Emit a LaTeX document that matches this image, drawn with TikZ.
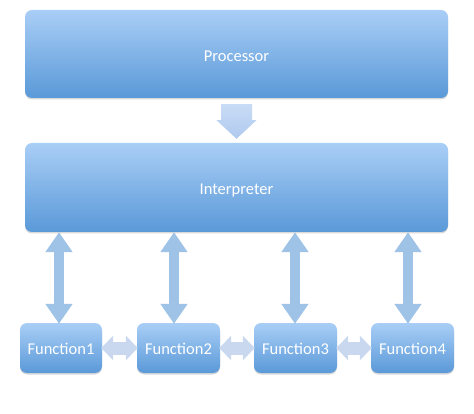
\documentclass[tikz,border=0pt]{standalone}
\usepackage{fontspec}
\setmainfont{Carlito}
\usetikzlibrary{arrows.meta,shadows,calc}
\definecolor{boxtop}{HTML}{A9CEF6}
\definecolor{boxbot}{HTML}{5A99D8}
\definecolor{varcol}{HTML}{9FC2E7}
\definecolor{harcol}{HTML}{C9D8EF}
\definecolor{dntop}{HTML}{C9DCF6}
\definecolor{dnbot}{HTML}{AFC9EE}
\newcommand{\lowtext}[2]{\raisebox{-#1}[0pt][0pt]{#2}}
\begin{document}
\begin{tikzpicture}[x=1pt,y=-1pt,
  bluebox/.style={rounded corners=7pt, top color=boxtop, bottom color=boxbot,
    draw=none, text=white, font=\fontsize{16.5}{19}\selectfont, inner sep=0pt,
    drop shadow={opacity=0.3, shadow xshift=0pt, shadow yshift=-1.5pt}},
  varrow/.style={draw=varcol, line width=10pt,
    {Triangle[width=26pt,length=20pt]}-{Triangle[width=26pt,length=20pt]}},
  harrow/.style={draw=harcol, line width=13pt,
    {Triangle[width=24pt,length=12pt]}-{Triangle[width=24pt,length=12pt]}}
]
\useasboundingbox (0,0) rectangle (474,414);
\node[bluebox, minimum width=423pt, minimum height=88pt] (proc) at (236.5,54) {\lowtext{7.3pt}{Processor}};
\node[bluebox, minimum width=423pt, minimum height=89pt] (interp) at (236.5,187.5) {\lowtext{6.8pt}{Interpreter}};
\node[bluebox, minimum width=82pt, minimum height=50pt] (f1) at (61,348) {\lowtext{6.3pt}{Function1}};
\node[bluebox, minimum width=83pt, minimum height=50pt] (f2) at (178.5,348) {\lowtext{6.3pt}{Function2}};
\node[bluebox, minimum width=83pt, minimum height=50pt] (f3) at (295.5,348) {\lowtext{6.3pt}{Function3}};
\node[bluebox, minimum width=83pt, minimum height=50pt] (f4) at (412.5,348) {\lowtext{6.3pt}{Function4}};
% down arrow
\coordinate (dtop) at ($(proc.south)+(0,6)$);
\shade[top color=dntop, bottom color=dnbot]
  ($(dtop)+(-15.5,0)$) -- ($(dtop)+(15.5,0)$) -- ($(dtop)+(15.5,16)$) -- ($(dtop)+(20,16)$)
  -- ($(interp.north)+(0,-4)$) -- ($(dtop)+(-20,16)$) -- ($(dtop)+(-15.5,16)$) -- cycle;
% vertical double arrows
\draw[varrow] ([xshift=-2pt,yshift=-1pt]f1.north) -- ([xshift=-2pt]f1.north |- interp.south);
\draw[varrow] ([xshift=-4.5pt,yshift=-1pt]f2.north) -- ([xshift=-4.5pt]f2.north |- interp.south);
\draw[varrow] ([xshift=-0.5pt,yshift=-1pt]f3.north) -- ([xshift=-0.5pt]f3.north |- interp.south);
\draw[varrow] ([xshift=-4.5pt,yshift=-1pt]f4.north) -- ([xshift=-4.5pt]f4.north |- interp.south);
% horizontal double arrows
\draw[harrow] ([xshift=-1pt]f1.east) -- ([xshift=1pt]f2.west);
\draw[harrow] ([xshift=-1pt]f2.east) -- ([xshift=1pt]f3.west);
\draw[harrow] ([xshift=-1pt]f3.east) -- ([xshift=1pt]f4.west);
\end{tikzpicture}
\end{document}
